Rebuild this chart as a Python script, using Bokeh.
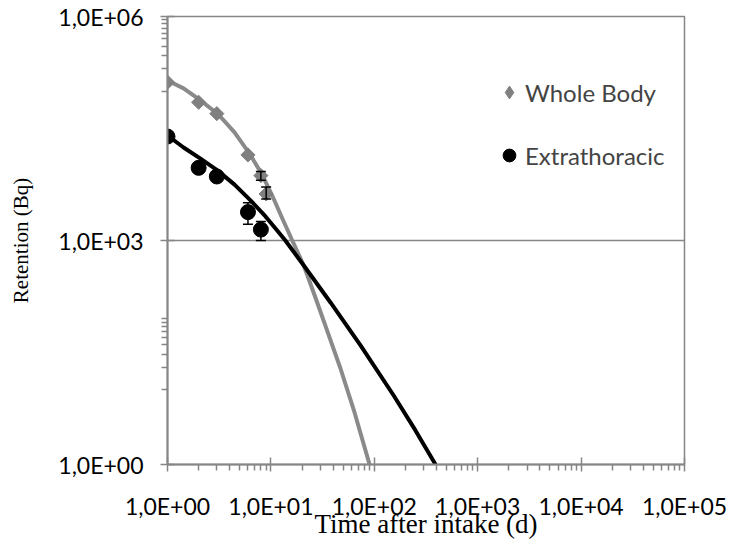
import numpy as np
from bokeh.plotting import figure
from bokeh.models import (FixedTicker, ColumnDataSource, Whisker, TeeHead,
                          Legend, LegendItem)
from bokeh.embed import file_html
from bokeh.resources import INLINE

# ---- axes / ticks ----
x_ticks = [1, 10, 100, 1000, 10000, 100000]
x_tick_labels = ["1,0E+00", "1,0E+01", "1,0E+02", "1,0E+03", "1,0E+04", "1,0E+05"]
x_minor = [k * 10 ** n for n in range(5) for k in range(2, 10)]
y_ticks = [1, 1000, 1000000]
y_tick_labels = ["1,0E+00", "1,0E+03", "1,0E+06"]
y_minor = [k * 10 for k in range(1, 10)] + [k * 100000 for k in range(1, 10)]

# ---- measured data ----
wb_t = [1, 2, 3, 6, 8, 9]
wb_y = [1.32e5, 7.1e4, 5.0e4, 1.4e4, 7.4e3, 4.2e3]
wb_err_t = [8, 9]
wb_err_lo = [6.4e3, 3.6e3]
wb_err_hi = [8.4e3, 5.2e3]

et_t = [1, 2, 3, 6, 8]
et_y = [2.47e4, 9.4e3, 7.2e3, 2.4e3, 1.4e3]
et_err_t = [6, 8]
et_err_lo = [1.65e3, 1.0e3]
et_err_hi = [3.2e3, 1.8e3]

# ---- model curves ----
wb_curve_t = [1, 1.43, 2.04, 3.11, 4.45, 6.21, 8.11, 10.4, 12.9, 16.1, 20.8,
              27.6, 36.1, 47.1, 64.4, 90]
wb_curve_y = [1.39e5, 1.09e5, 7.7e4, 4.87e4, 2.8e4, 1.46e4, 7.9e3, 3.88e3,
              1.97e3, 1.0e3, 462, 157, 55, 19.3, 4.98, 1.0]

et_curve_t = [1, 1.43, 2.085, 3.04, 4.45, 6.35, 8.87, 11.5, 13.8, 20.8, 37.7,
              73.6, 154, 250, 391]
et_curve_y = [2.55e4, 1.76e4, 1.25e4, 8.7e3, 5.6e3, 3.44e3, 2.10e3, 1.36e3,
              1.0e3, 462, 148, 39.3, 8.4, 2.86, 1.0]

GRAY = "#868686"
SERIES_GRAY = "#8a8a8a"
TICK_FONT = "Lato"
TITLE_FONT = "Liberation Serif"

p = figure(width=737, height=541, x_axis_type="log", y_axis_type="log",
           x_range=(1, 1e5), y_range=(1, 1e6),
           output_backend="svg", toolbar_location=None,
           min_border_left=167, min_border_right=53,
           min_border_top=16, min_border_bottom=77)

p.xaxis.ticker = FixedTicker(ticks=x_ticks, minor_ticks=x_minor)
p.yaxis.ticker = FixedTicker(ticks=y_ticks, minor_ticks=y_minor)
p.xaxis.major_label_overrides = dict(zip(x_ticks, x_tick_labels))
p.yaxis.major_label_overrides = dict(zip(y_ticks, y_tick_labels))

for ax in (p.xaxis[0], p.yaxis[0]):
    ax.axis_line_color = GRAY
    ax.axis_line_width = 2
    ax.major_tick_line_color = GRAY
    ax.major_tick_line_width = 1.5
    ax.minor_tick_line_color = GRAY
    ax.minor_tick_line_width = 1.5
    ax.major_tick_in = 7
    ax.major_tick_out = 7
    ax.minor_tick_in = 0
    ax.minor_tick_out = 6
    ax.major_label_text_font = TICK_FONT
    ax.major_label_text_font_size = "23px"
    ax.major_label_text_color = "black"
    ax.axis_label_text_font = TITLE_FONT
    ax.axis_label_text_font_style = "normal"
    ax.axis_label_text_color = "black"

p.xaxis.axis_label = "Time after intake (d)"
p.xaxis.axis_label_text_font_size = "27px"
p.xaxis.major_label_standoff = 20
p.xaxis.axis_label_standoff = -14

p.yaxis.axis_label = "Retention (Bq)"
p.yaxis.axis_label_text_font_size = "21px"
p.yaxis.major_label_standoff = 17
p.yaxis.axis_label_standoff = 22

p.xgrid.visible = False
p.ygrid.grid_line_color = GRAY
p.ygrid.grid_line_width = 1.5
p.outline_line_color = GRAY
p.outline_line_width = 1.5

p.line(wb_curve_t, wb_curve_y, line_color=SERIES_GRAY, line_width=4)
p.line(et_curve_t, et_curve_y, line_color="black", line_width=4)

for t, lo, hi in ((wb_err_t, wb_err_lo, wb_err_hi), (et_err_t, et_err_lo, et_err_hi)):
    src = ColumnDataSource(dict(x=t, lower=lo, upper=hi))
    w = Whisker(source=src, base="x", lower="lower", upper="upper",
                line_color="black", line_width=1.5, level="glyph",
                upper_head=TeeHead(size=10, line_color="black", line_width=1.5),
                lower_head=TeeHead(size=10, line_color="black", line_width=1.5))
    p.add_layout(w)

wb = p.scatter(wb_t, wb_y, marker="square", angle=np.pi / 4, size=10,
               fill_color="#808080", line_color="#808080")
et = p.scatter(et_t, et_y, marker="circle", size=15,
               fill_color="black", line_color="black")
# legend key only (a NaN point is never drawn) so the legend shows a diamond
wb_key = p.scatter(x=[np.nan], y=[np.nan], marker="diamond", size=14,
                   fill_color="#808080", line_color="#808080")

legend = Legend(items=[LegendItem(label="Whole Body", renderers=[wb_key]),
                       LegendItem(label="Extrathoracic", renderers=[et])],
                location=(326, 293), glyph_width=32, glyph_height=32,
                label_height=32, spacing=31, padding=0, margin=0,
                border_line_color=None, background_fill_alpha=0,
                label_text_font=TICK_FONT, label_text_font_size="24px",
                label_standoff=-8)
p.add_layout(legend)

open("out.html", "w").write(file_html(p, INLINE))
